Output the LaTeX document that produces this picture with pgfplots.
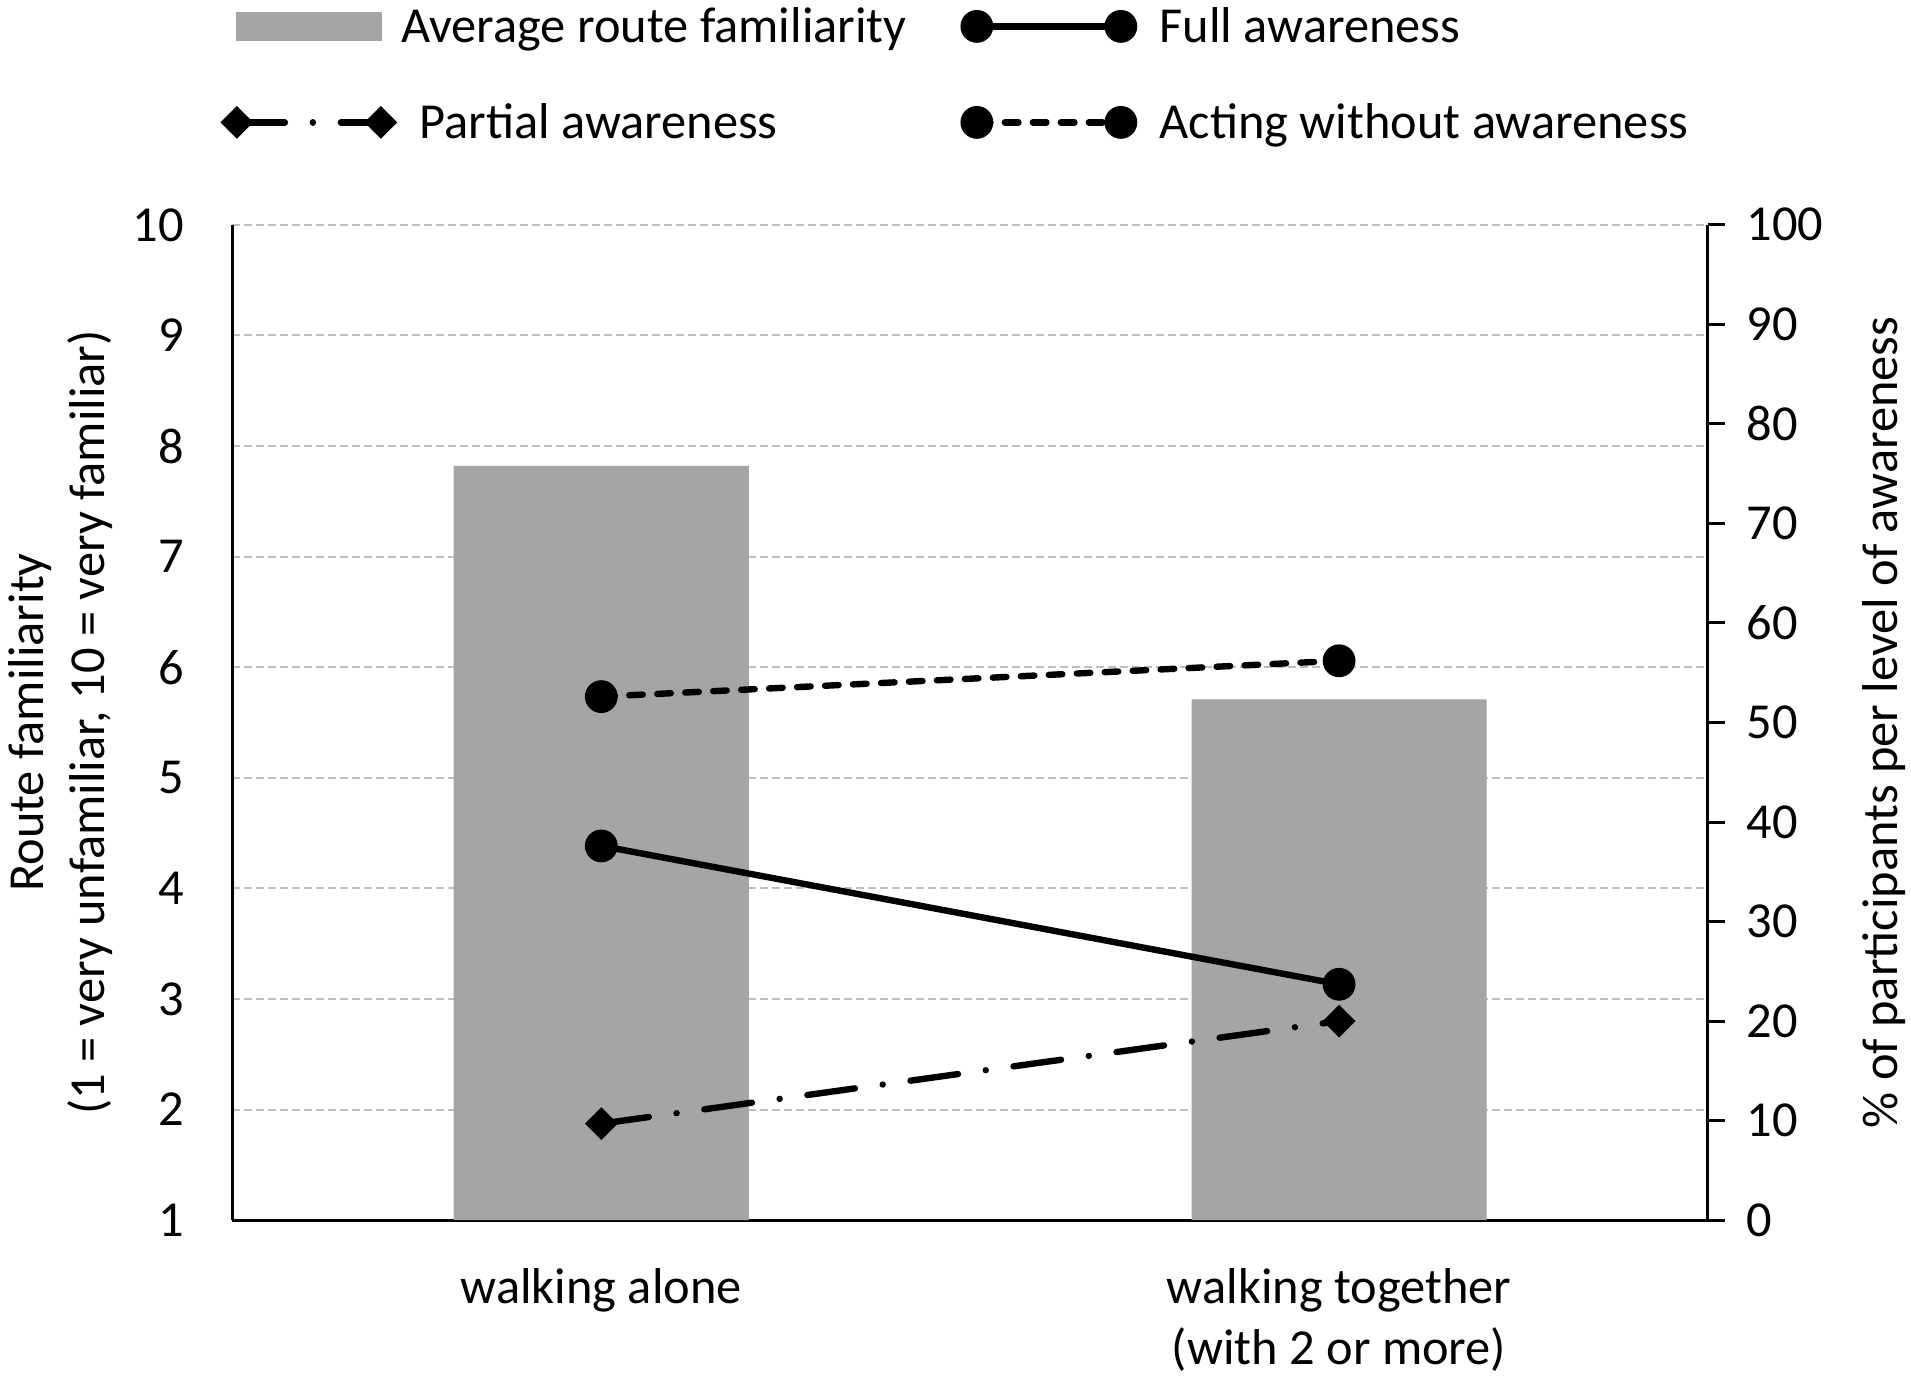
\documentclass[border=0pt]{standalone}
\usepackage{fontspec}
\setmainfont{Carlito}
\usepackage{pgfplots}
\pgfplotsset{compat=1.18}
\definecolor{barg}{HTML}{A5A5A5}
\definecolor{gridg}{HTML}{BFBFBF}
\newcommand{\ff}{\fontsize{12.6}{15.2}\selectfont}
\pgfplotsset{
  col2 legend/.style={legend image code/.code={\draw[##1] plot coordinates {(0pt,0pt) (36pt,0pt)}; \path (43.6pt,0pt);}},
}
\begin{document}
\begin{tikzpicture}
\path[use as bounding box] (-58.1pt,-40.7pt) rectangle (419.65pt,305.05pt);
\begin{axis}[
  at={(0pt,0pt)}, anchor=south west,
  scale only axis, width=368.9pt, height=248.85pt,
  xmin=-0.5, xmax=1.5, ymin=1, ymax=10,
  ytick={1,2,...,10}, xtick={0,1},
  xticklabels={walking alone, {walking together\\(with 2 or more)}},
  axis x line*=bottom, axis y line*=left,
  axis line style={-, line width=0.75pt, black},
  major tick length=0pt,
  ymajorgrids, major grid style={gridg, line width=0.5pt, dash pattern=on 2pt off 1pt},
  /pgf/number format/assume math mode=true,
  tick label style={font=\ff},
  yticklabel style={anchor=east, inner sep=0pt, xshift=-12pt},
  xticklabel style={anchor=north, inner sep=0pt, yshift=-12pt, align=center},
  ylabel={Route familiarity\\(1 = very unfamiliar, 10 = very familiar)},
  every axis y label/.style={at={(axis description cs:-0.1163,0.5)}, rotate=90, anchor=center, align=center, font=\ff},
  ybar, bar width=0.4,
]
\addplot[fill=barg, draw=none] coordinates {(0,7.82) (1,5.71)};
\end{axis}
\begin{axis}[
  at={(0pt,0pt)}, anchor=south west,
  scale only axis, width=368.9pt, height=248.85pt,
  xmin=-0.5, xmax=1.5, ymin=0, ymax=100,
  ytick={0,10,...,100}, xtick=\empty,
  axis x line=none, axis y line*=right,
  axis line style={-, line width=0.75pt, black},
  tick style={line width=0.75pt, black},
  tick align=outside, major tick length=4.25pt,
  /pgf/number format/assume math mode=true,
  tick label style={font=\ff},
  yticklabel style={anchor=west, inner sep=0pt, xshift=5.2pt},
  ylabel={\% of participants per level of awareness},
  every axis y label/.style={at={(axis description cs:1.1193,0.5)}, rotate=90, anchor=center, font=\ff},
  legend columns=2,
  legend image code/.code={\draw[#1] plot coordinates {(0pt,0pt) (36pt,0pt)};},
  legend style={at={(0,1)}, anchor=south west, xshift=-2.9pt, yshift=19.4pt,
    draw=none, fill=none, inner xsep=0pt, inner ysep=0pt, font=\ff,
    row sep=12pt, column sep=1.3pt,
    nodes={inner sep=0pt, text height=10pt, text depth=2pt},
    cells={anchor=west},
    /tikz/every even column/.append style={column sep=13.7pt}},
]
\addlegendimage{legend image code/.code={\fill[barg] (0pt,-3.35pt) rectangle (36pt,3.35pt);}}
\addlegendentry{Average route familiarity}
\addplot[black, line width=1.6pt, mark=*, mark size=3.9pt, mark options={solid, line width=0.4pt}, col2 legend]
  coordinates {(0,37.6) (1,23.7)};
\addlegendentry{Full awareness}
\addplot[black, line width=1.6pt, line cap=round, dash pattern=on 12pt off 7pt on 0.01pt off 7pt,
  mark=square*, mark size=2.7pt, mark options={solid, rotate=45, line width=0.4pt}]
  coordinates {(0,9.7) (1,20.0)};
\addlegendentry[xshift=4.5pt]{Partial awareness}
\addplot[black, line width=1.6pt, line cap=round, dash pattern=on 3.4pt off 3.6pt,
  mark=*, mark size=3.9pt, mark options={solid, line width=0.4pt}, col2 legend]
  coordinates {(0,52.6) (1,56.2)};
\addlegendentry{Acting without awareness}
\end{axis}
\end{tikzpicture}
\end{document}
